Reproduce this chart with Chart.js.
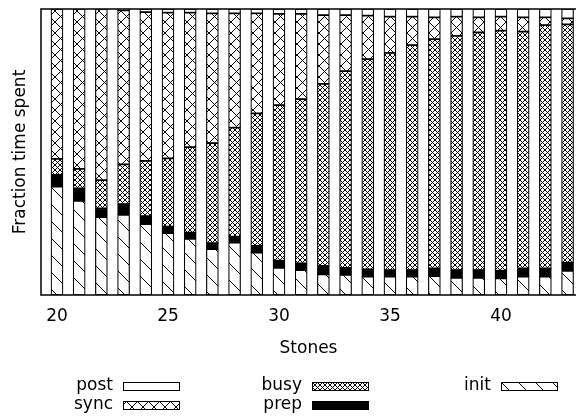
<!DOCTYPE html>
<html>
<head>
<meta charset="utf-8">
<script src="https://cdn.jsdelivr.net/npm/chart.js@4.4.1/dist/chart.umd.min.js"></script>
<style>
  html, body { margin: 0; padding: 0; background: #fff; overflow: hidden; }
  #wrap { width: 576px; height: 417px; position: relative; }
</style>
</head>
<body>
<div id="wrap"><canvas id="chart_fraction"></canvas></div>
<script>
// stones on the x axis
const stones = [20, 21, 22, 23, 24, 25, 26, 27, 28, 29, 30, 31,
                32, 33, 34, 35, 36, 37, 38, 39, 40, 41, 42, 43];
const xTicks = [20, 25, 30, 35, 40];

// fraction of time per phase, bottom to top
const initFrac = [0.379, 0.329, 0.272, 0.280, 0.248, 0.216, 0.196, 0.160, 0.183, 0.148, 0.095, 0.087,
                  0.072, 0.070, 0.064, 0.064, 0.064, 0.066, 0.060, 0.060, 0.058, 0.064, 0.064, 0.084];
const prepFrac = [0.041, 0.044, 0.031, 0.038, 0.028, 0.023, 0.022, 0.021, 0.021, 0.024, 0.025, 0.024,
                  0.030, 0.025, 0.026, 0.023, 0.023, 0.027, 0.027, 0.027, 0.027, 0.029, 0.029, 0.029];
const busyFrac = [0.056, 0.068, 0.099, 0.139, 0.193, 0.239, 0.299, 0.350, 0.381, 0.463, 0.544, 0.574,
                  0.636, 0.688, 0.735, 0.760, 0.787, 0.802, 0.819, 0.831, 0.839, 0.828, 0.851, 0.833];
const syncFrac = [0.524, 0.559, 0.598, 0.538, 0.520, 0.509, 0.470, 0.454, 0.400, 0.350, 0.319, 0.298,
                  0.241, 0.196, 0.152, 0.126, 0.099, 0.076, 0.067, 0.053, 0.049, 0.050, 0.027, 0.021];
const postFrac = [0.000, 0.000, 0.000, 0.005, 0.011, 0.013, 0.013, 0.015, 0.015, 0.015, 0.017, 0.017,
                  0.021, 0.021, 0.023, 0.027, 0.027, 0.029, 0.027, 0.029, 0.027, 0.029, 0.029, 0.033];

// gnuplot key order (row-major, 3 columns)
const legendOrder = ['post', 'busy', 'init', 'sync', 'prep'];

const FONT = "'DejaVu Sans', sans-serif";

function hatch(size, dirs) {
  const c = document.createElement('canvas');
  c.width = size;
  c.height = size;
  const g = c.getContext('2d');
  g.fillStyle = '#fff';
  g.fillRect(0, 0, size, size);
  g.strokeStyle = '#000';
  g.lineWidth = 1;
  g.beginPath();
  if (dirs.includes('\\')) {
    g.moveTo(-1, -1); g.lineTo(size + 1, size + 1);
  }
  if (dirs.includes('/')) {
    g.moveTo(-1, size + 1); g.lineTo(size + 1, -1);
  }
  g.stroke();
  return g.createPattern(c, 'repeat');
}

const fills = {
  init: hatch(17, '\\'),
  prep: '#000',
  busy: hatch(5, '\\/'),
  sync: hatch(11, '\\/'),
  post: '#fff'
};

function series(label, arr) {
  return {
    label: label,
    data: stones.map((s, i) => ({ x: s, y: arr[i] })),
    backgroundColor: fills[label],
    borderColor: '#000',
    borderWidth: 1.2,
    borderSkipped: false,
    barThickness: 12
  };
}

const framePlugin = {
  id: 'frame',
  afterDatasetsDraw: chart => {
    const a = chart.chartArea;
    const ctx = chart.ctx;
    ctx.save();
    ctx.strokeStyle = '#000';
    ctx.lineWidth = 1.5;
    ctx.beginPath();
    ctx.moveTo(a.right + 2, a.top);
    ctx.lineTo(a.left, a.top);
    ctx.lineTo(a.left, a.bottom);
    ctx.lineTo(a.right + 2, a.bottom);
    ctx.stroke();
    ctx.restore();
  }
};

const keyPlugin = {
  id: 'key',
  afterDraw: chart => {
    const ctx = chart.ctx;
    const colX = [123, 312, 501];
    const rowY = [382, 401];
    ctx.save();
    ctx.font = '17px ' + FONT;
    ctx.textAlign = 'right';
    ctx.textBaseline = 'middle';
    legendOrder.forEach((name, i) => {
      const ds = chart.data.datasets.find(d => d.label === name);
      const x = colX[i % 3];
      const y = rowY[Math.floor(i / 3)];
      ctx.fillStyle = '#000';
      ctx.fillText(name, x - 10, y + 4);
      ctx.fillStyle = ds.backgroundColor;
      ctx.fillRect(x, y, 57, 8);
      ctx.strokeStyle = '#000';
      ctx.lineWidth = 1;
      ctx.strokeRect(x + 0.5, y + 0.5, 56, 8);
    });
    ctx.restore();
  }
};

new Chart(document.getElementById('chart_fraction'), {
  type: 'bar',
  data: {
    datasets: [
      series('init', initFrac),
      series('prep', prepFrac),
      series('busy', busyFrac),
      series('sync', syncFrac),
      series('post', postFrac)
    ]
  },
  options: {
    responsive: true,
    maintainAspectRatio: false,
    animation: false,
    layout: { padding: { top: 9, left: 0, right: 0, bottom: 0 } },
    scales: {
      x: {
        type: 'linear',
        stacked: true,
        offset: false,
        min: 19.28,
        max: 43.38,
        afterBuildTicks: scale => { scale.ticks = xTicks.map(v => ({ value: v })); },
        afterFit: scale => { scale.height = 122; },
        ticks: {
          color: '#000',
          padding: 11,
          maxRotation: 0,
          font: { size: 17, family: FONT }
        },
        grid: { display: false, drawTicks: false },
        border: { display: false },
        title: {
          display: true,
          text: 'Stones',
          color: '#000',
          font: { size: 17, family: FONT },
          padding: { top: 0, bottom: 58 }
        }
      },
      y: {
        stacked: true,
        min: 0,
        max: 1,
        afterFit: scale => { scale.width = 41; },
        ticks: { display: false },
        grid: { display: false, drawTicks: false },
        border: { display: false },
        title: {
          display: true,
          text: 'Fraction time spent',
          color: '#000',
          font: { size: 17, family: FONT },
          padding: { top: 10, bottom: 0 }
        }
      }
    },
    plugins: {
      legend: { display: false },
      tooltip: { enabled: false }
    }
  },
  plugins: [framePlugin, keyPlugin]
});
</script>
</body>
</html>
